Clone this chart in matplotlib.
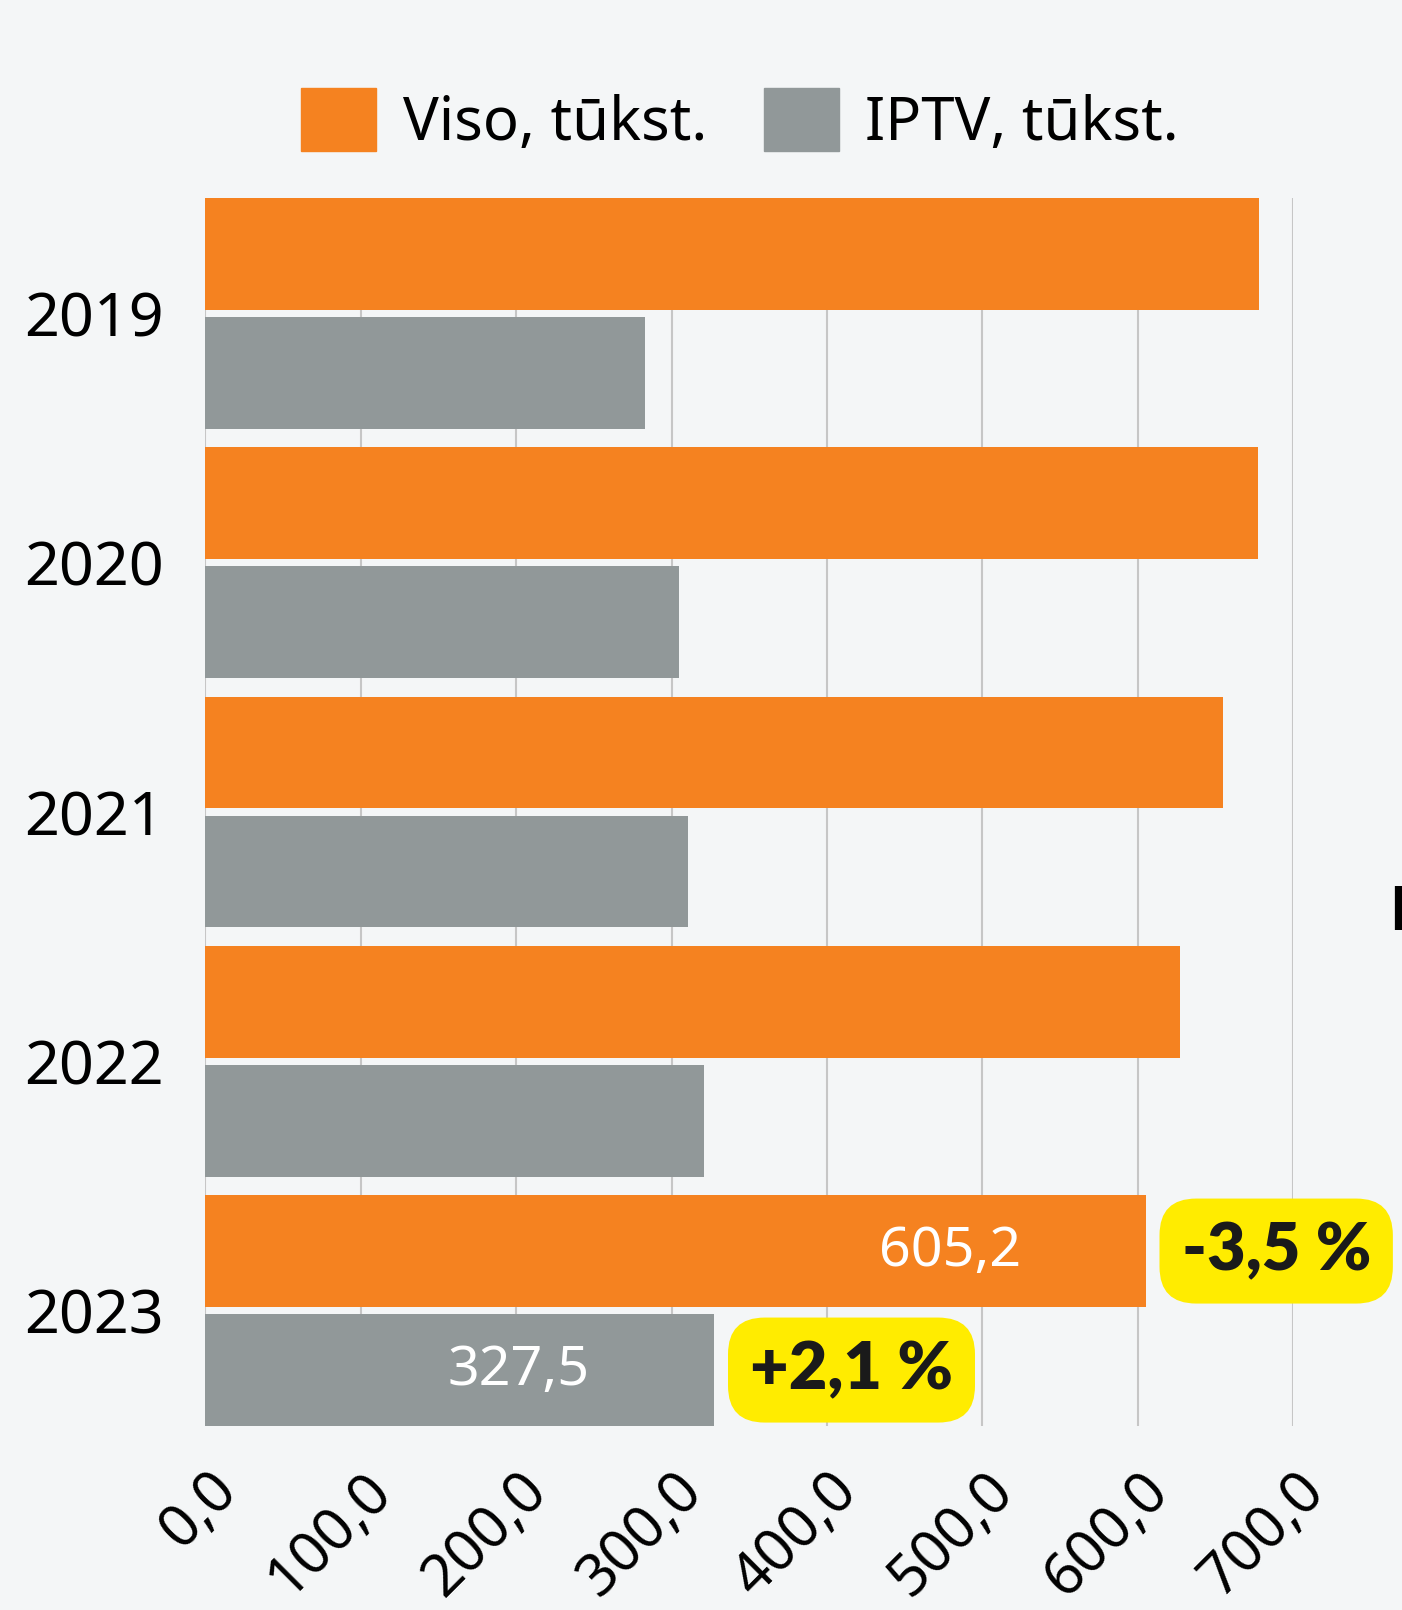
import matplotlib.pyplot as plt
import numpy as np
from matplotlib.patches import Patch
from matplotlib.transforms import ScaledTranslation

plt.rcParams['font.family'] = ['Noto Sans', 'DejaVu Sans']

years = ['2019', '2020', '2021', '2022', '2023']
viso = [678.0, 677.5, 655.0, 627.2, 605.2]
iptv = [283.0, 304.7, 310.6, 320.8, 327.5]
last_labels = ['605,2', '327,5']
changes = ['-3,5 %', '+2,1 %']
xticks = [0, 100, 200, 300, 400, 500, 600, 700]
xtick_labels = ['0,0', '100,0', '200,0', '300,0', '400,0', '500,0', '600,0', '700,0']

ORANGE = '#f58220'
GRAY = '#919899'
YELLOW = '#ffec00'
BG = '#f4f6f7'

fig = plt.figure(figsize=(14.02, 16.10), dpi=100, facecolor=BG)
ax = fig.add_axes([0.1465, 0.1143, 0.7758, 0.7627], facecolor=BG)

y = np.arange(len(years))
off = 0.2387
h = 0.449
ax.barh(y - off, viso, height=h, color=ORANGE, zorder=3)
ax.barh(y + off, iptv, height=h, color=GRAY, zorder=3)

ax.set_xlim(0, 700)
ax.set_ylim(4.463, -0.463)

for s in ax.spines.values():
    s.set_visible(False)
ax.set_xticks(xticks)
ax.set_xticklabels(xtick_labels, rotation=45, ha='right', va='center',
                   rotation_mode='anchor', fontsize=42)
ax.tick_params(axis='x', length=0, pad=40)
for lbl in ax.get_xticklabels():
    lbl.set_transform(lbl.get_transform() + ScaledTranslation(0.22, 0, fig.dpi_scale_trans))
ax.set_yticks(y)
ax.set_yticklabels(years, fontsize=44)
ax.tick_params(axis='y', length=0, pad=30)
ax.grid(axis='x', color='#c6c6c6', linewidth=1.5, zorder=0)

# values inside last bars
ax.text(viso[-1] - 80, 4 - off, last_labels[0], color='white', fontsize=40,
        ha='right', va='center', zorder=4)
ax.text(iptv[-1] - 80, 4 + off, last_labels[1], color='white', fontsize=40,
        ha='right', va='center', zorder=4)

# change badges
box = dict(boxstyle='round,pad=0.33,rounding_size=0.55', fc=YELLOW, ec='none')
bold = ['Lato', 'DejaVu Sans']
ax.text(viso[-1] + 23, 4 - off, changes[0], color='#1a1a1a', fontsize=48,
        family=bold, fontweight='heavy', ha='left', va='center', bbox=box, zorder=4)
ax.text(iptv[-1] + 23, 4 + off, changes[1], color='#1a1a1a', fontsize=48,
        family=bold, fontweight='heavy', ha='left', va='center', bbox=box, zorder=4)

handles = [Patch(color=ORANGE), Patch(color=GRAY)]
fig.legend(handles, ['Viso, tūkst.', 'IPTV, tūkst.'], loc='center',
           bbox_to_anchor=(0.528, 0.925), ncol=2, frameon=False, fontsize=43,
           handlelength=1.25, handleheight=1.25, handletextpad=0.45,
           columnspacing=0.95)

# cut-off text at right edge
fig.text(1389 / 1402, 1 - 930 / 1610, 'E', fontsize=44, fontweight='bold',
         family=bold, ha='left', va='baseline')

fig.savefig('out.png', dpi=100, facecolor=BG)
